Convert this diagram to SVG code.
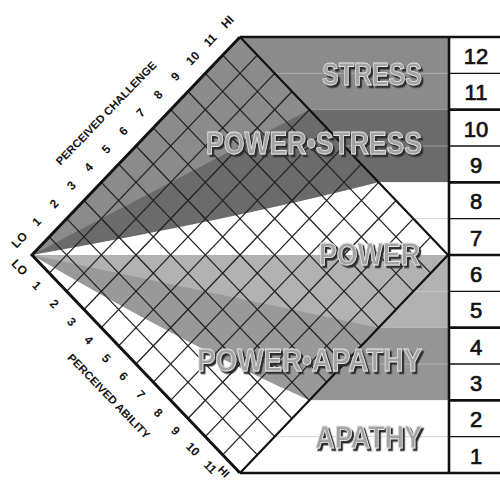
<svg xmlns="http://www.w3.org/2000/svg" width="500" height="483" viewBox="0 0 500 483">
<style>
.grid{stroke:#222;stroke-width:1.3;fill:none}
.ax{font-family:"Liberation Sans",Arial,sans-serif;font-weight:bold;font-size:12px;fill:#111;text-anchor:middle}
.axt{font-size:11px}
.big{font-family:"Liberation Sans",Arial,sans-serif;font-weight:bold;font-size:31px;text-anchor:end;fill:#a3a3a3;stroke:#e6e6e6;stroke-width:0.8;filter:url(#shadow)}
.num{font-family:"Liberation Sans",Arial,sans-serif;font-size:22px;fill:#111;stroke:#111;stroke-width:0.7;text-anchor:middle}
.thick{stroke:#111;stroke-width:2.6}
.thin{stroke:#111;stroke-width:1.3}
.faintw{stroke:#ffffff;stroke-opacity:0.3;stroke-width:1}
.faintg{stroke:#d4d4d4;stroke-width:1}
</style>
<defs>
<clipPath id="dclip"><polygon points="32,255 240,37 448,255 240,473"/></clipPath>
<filter id="shadow" x="-10%" y="-30%" width="120%" height="160%">
<feDropShadow dx="2.2" dy="2.5" stdDeviation="0.5" flood-color="#2e2e2e" flood-opacity="1"/>
</filter>
</defs>
<rect width="500" height="483" fill="#ffffff"/>

<g id="bands">
<rect x="240" y="37" width="209" height="72.67" fill="#8b8b8b"/>
<rect x="240" y="109.67" width="209" height="72.67" fill="#6b6b6b"/>
<rect x="240" y="182.33" width="209" height="72.67" fill="#ffffff"/>
<rect x="240" y="255" width="209" height="72.67" fill="#b2b2b2"/>
<rect x="240" y="327.67" width="209" height="72.67" fill="#959595"/>
<rect x="240" y="400.33" width="209" height="72.67" fill="#ffffff"/>
<line class="faintw" x1="274" y1="73.33" x2="449" y2="73.33"/>
<line class="faintw" x1="343" y1="146" x2="449" y2="146"/>
<line class="faintg" x1="413" y1="218.67" x2="449" y2="218.67"/>
<line class="faintw" x1="413" y1="291.33" x2="449" y2="291.33"/>
<line class="faintw" x1="343" y1="364" x2="449" y2="364"/>
<line class="faintg" x1="274" y1="436.67" x2="449" y2="436.67"/>
</g>

<g id="diamond">
<g clip-path="url(#dclip)">
<rect x="20" y="30" width="440" height="450" fill="#8b8b8b"/>
<path d="M32,255 L309.33,109.67 L460,109.67 L460,480 L20,480 Z" fill="#6b6b6b"/>
<path d="M32,255 Q230,220 378.67,182.33 L460,182.33 L460,480 L20,480 Z" fill="#ffffff"/>
<path d="M32,255 L460,255 L460,480 L20,480 Z" fill="#b2b2b2"/>
<path d="M32,255 L378.67,327.67 L460,327.67 L460,480 L20,480 Z" fill="#999999"/>
<path d="M32,255 Q180,342 309.33,400.33 L460,400.33 L460,480 L20,480 Z" fill="#ffffff"/>
</g>
<g class="grid">
<line x1="49.33" y1="273.17" x2="257.33" y2="55.17"/>
<line x1="66.67" y1="291.33" x2="274.67" y2="73.33"/>
<line x1="84" y1="309.5" x2="292" y2="91.5"/>
<line x1="101.33" y1="327.67" x2="309.33" y2="109.67"/>
<line x1="118.67" y1="345.83" x2="326.67" y2="127.83"/>
<line x1="136" y1="364" x2="344" y2="146"/>
<line x1="153.33" y1="382.17" x2="361.33" y2="164.17"/>
<line x1="170.67" y1="400.33" x2="378.67" y2="182.33"/>
<line x1="188" y1="418.5" x2="396" y2="200.5"/>
<line x1="205.33" y1="436.67" x2="413.33" y2="218.67"/>
<line x1="222.67" y1="454.83" x2="430.67" y2="236.83"/>
<line x1="49.33" y1="236.83" x2="257.33" y2="454.83"/>
<line x1="66.67" y1="218.67" x2="274.67" y2="436.67"/>
<line x1="84" y1="200.5" x2="292" y2="418.5"/>
<line x1="101.33" y1="182.33" x2="309.33" y2="400.33"/>
<line x1="118.67" y1="164.17" x2="326.67" y2="382.17"/>
<line x1="136" y1="146" x2="344" y2="364"/>
<line x1="153.33" y1="127.83" x2="361.33" y2="345.83"/>
<line x1="170.67" y1="109.67" x2="378.67" y2="327.67"/>
<line x1="188" y1="91.5" x2="396" y2="309.5"/>
<line x1="205.33" y1="73.33" x2="413.33" y2="291.33"/>
<line x1="222.67" y1="55.17" x2="430.67" y2="273.17"/>
</g>
<path d="M240,37 L448,255 L240,473" fill="none" stroke="#111" stroke-width="2.2"/>
<path d="M240,37 L32,255 L240,473" fill="none" stroke="#111" stroke-width="3"/>
</g>

<g id="scale">
<rect x="449" y="37" width="53" height="436" fill="#ffffff"/>
<line class="thin" x1="449" y1="73.33" x2="500" y2="73.33"/>
<line class="thick" x1="449" y1="109.67" x2="500" y2="109.67"/>
<line class="thin" x1="449" y1="146" x2="500" y2="146"/>
<line class="thick" x1="449" y1="182.33" x2="500" y2="182.33"/>
<line class="thin" x1="449" y1="218.67" x2="500" y2="218.67"/>
<line class="thick" x1="449" y1="255" x2="500" y2="255"/>
<line class="thin" x1="449" y1="291.33" x2="500" y2="291.33"/>
<line class="thick" x1="449" y1="327.67" x2="500" y2="327.67"/>
<line class="thin" x1="449" y1="364" x2="500" y2="364"/>
<line class="thick" x1="449" y1="400.33" x2="500" y2="400.33"/>
<line class="thin" x1="449" y1="436.67" x2="500" y2="436.67"/>
<line class="thick" x1="449" y1="37" x2="449" y2="473"/>
<line class="thick" x1="240" y1="37" x2="500" y2="37"/>
<line class="thick" x1="240" y1="473" x2="500" y2="473"/>
<text class="num" x="476" y="64">12</text>
<text class="num" x="476" y="100">11</text>
<text class="num" x="476" y="136.5">10</text>
<text class="num" x="476" y="173">9</text>
<text class="num" x="476" y="209">8</text>
<text class="num" x="476" y="245.5">7</text>
<text class="num" x="476" y="282">6</text>
<text class="num" x="476" y="318">5</text>
<text class="num" x="476" y="354.5">4</text>
<text class="num" x="476" y="391">3</text>
<text class="num" x="476" y="427">2</text>
<text class="num" x="476" y="463.5">1</text>
</g>

<g id="label-stress">
<text class="big" x="422" y="85" textLength="100" lengthAdjust="spacingAndGlyphs">STRESS</text>
</g>
<g id="label-power-stress">
<text class="big" x="422" y="154" textLength="216" lengthAdjust="spacingAndGlyphs">POWER•STRESS</text>
</g>
<g id="label-power">
<text class="big" x="420" y="265" textLength="101" lengthAdjust="spacingAndGlyphs">POWER</text>
</g>
<g id="label-power-apathy">
<text class="big" x="422" y="371" textLength="225" lengthAdjust="spacingAndGlyphs">POWER•APATHY</text>
</g>
<g id="label-apathy">
<text class="big" x="422" y="448" textLength="107" lengthAdjust="spacingAndGlyphs">APATHY</text>
</g>

<g id="axis-challenge">
<g class="ax">
<text transform="translate(19.5,240) rotate(-46)" y="4">LO</text>
<text transform="translate(36.8,221.8) rotate(-46)" y="4">1</text>
<text transform="translate(54.2,203.7) rotate(-46)" y="4">2</text>
<text transform="translate(71.5,185.5) rotate(-46)" y="4">3</text>
<text transform="translate(88.8,167.3) rotate(-46)" y="4">4</text>
<text transform="translate(106.2,149.2) rotate(-46)" y="4">5</text>
<text transform="translate(123.5,131) rotate(-46)" y="4">6</text>
<text transform="translate(140.8,112.8) rotate(-46)" y="4">7</text>
<text transform="translate(158.2,94.7) rotate(-46)" y="4">8</text>
<text transform="translate(175.5,76.5) rotate(-46)" y="4">9</text>
<text transform="translate(192.8,58.3) rotate(-46)" y="4">10</text>
<text transform="translate(210.2,40.2) rotate(-46)" y="4">11</text>
<text transform="translate(227.5,22) rotate(-46)" y="4">HI</text>
<text class="axt" transform="translate(106,113) rotate(-46)" y="4" textLength="139" lengthAdjust="spacingAndGlyphs">PERCEIVED CHALLENGE</text>
</g>
</g>

<g id="axis-ability">
<g class="ax">
<text transform="translate(19.5,267.5) rotate(46)" y="4">LO</text>
<text transform="translate(36.8,285.7) rotate(46)" y="4">1</text>
<text transform="translate(54.2,303.8) rotate(46)" y="4">2</text>
<text transform="translate(71.5,322) rotate(46)" y="4">3</text>
<text transform="translate(88.8,340.2) rotate(46)" y="4">4</text>
<text transform="translate(106.2,358.3) rotate(46)" y="4">5</text>
<text transform="translate(123.5,376.5) rotate(46)" y="4">6</text>
<text transform="translate(140.8,394.7) rotate(46)" y="4">7</text>
<text transform="translate(158.2,412.8) rotate(46)" y="4">8</text>
<text transform="translate(175.5,431) rotate(46)" y="4">9</text>
<text transform="translate(192.8,449.2) rotate(46)" y="4">10</text>
<text transform="translate(210.2,467.3) rotate(46)" y="4">11</text>
<text transform="translate(224,471.5) rotate(46)" y="4" style="font-size:11px">HI</text>
<text class="axt" transform="translate(109,396) rotate(46)" y="4" textLength="113" lengthAdjust="spacingAndGlyphs">PERCEIVED ABILITY</text>
</g>
</g>
</svg>
